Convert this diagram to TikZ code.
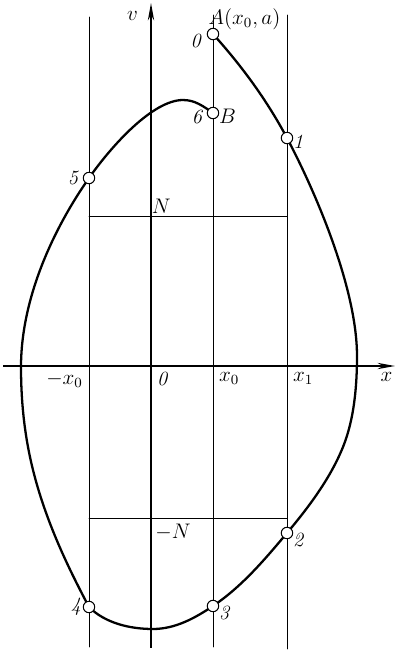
\documentclass[tikz,border=0pt]{standalone}
\usepackage{amsmath, amssymb}
\usepackage{tikz}
\usetikzlibrary{calc, arrows.meta}
\usepackage{tkz-euclide}

\tikzset{
  curve/.style={line width=1.3pt, line cap=round},
  guide/.style={line width=0.45pt},
  axis/.style={line width=0.8pt, -{Stealth[length=10pt, width=3.6pt]}},
  ringpt/.style={circle, draw, fill=white, line width=0.6pt, inner sep=0pt, minimum size=6.5pt},
  lbl/.style={font=\fontsize{11.5}{13}\selectfont}
}

\begin{document}
\begin{tikzpicture}[scale=0.2]
            \useasboundingbox (-15.1,-28.5) rectangle (24.5,36.6);
            \tkzDefPoints{0/0/O, 6.2/33.2/A, 6.2/25.3/B, 13.6/22.8/P1, 13.6/-16.7/P2, 6.2/-24.0/P3, -6.2/-24.1/P4, -6.2/18.8/P5}
            \tkzDefPoints{20.6/1.0/R, 19.2/-8.1/Rc, 0.2/-26.3/D, -11.8/-10.4/Lc, -13.0/-0.1/L, 3.2/26.6/T}
            \tkzDefPoints{-14.8/0/Xs, 24.4/0/Xe, 0/-28.2/Vs, 0/36.3/Ve}
            \tkzDefPoints{-6.2/34.9/Gt1, -6.2/-28.1/Gb1, 6.2/35.1/Gt2, 6.2/-28.1/Gb2, 13.6/35.1/Gt3, 13.6/-28.3/Gb3}
            \tkzDefPoints{-6.2/15/NL, 0/15/N, 13.6/15/NR, -6.2/-15.2/ML, 0/-15.2/M, 13.6/-15.2/MR, -6.2/0/Xm, 6.2/0/Xp, 13.6/0/Xq}
            \tkzDrawSegments[guide](Gt1,Gb1 Gt2,Gb2 Gt3,Gb3 NL,NR ML,MR)
            \draw[axis] (Xs) -- (Xe);
            \draw[axis] (Vs) -- (Ve);
            % the phase curve, from A round to B
            \draw[curve] (A) .. controls +(-48:4.3) and +(118:4.3) .. (P1)
                .. controls +(-62:5.5) and +(90:7) .. (R)
                .. controls +(-90:3) and +(68:3) .. (Rc)
                .. controls +(-112:3.4) and +(50:3.4) .. (P2)
                .. controls +(-130:3.5) and +(34:3.5) .. (P3)
                .. controls +(-146:2.2) and +(0:2.2) .. (D)
                .. controls +(180:2.3) and +(-45:2.3) .. (P4)
                .. controls +(118:5) and +(-76:5) .. (Lc)
                .. controls +(104:3.5) and +(-90:3.5) .. (L)
                .. controls +(90:7) and +(-125:6) .. (P5)
                .. controls +(55:4) and +(180:3) .. (T)
                .. controls +(0:1.2) and +(145:1.2) .. (B);
            \foreach \p in {A,B,P1,P2,P3,P4,P5}
              \node[ringpt] (m\p) at (\p) {};
            \tkzLabelPoint[lbl, above right, xshift=-6pt, yshift=-1pt](A){$A(x_0,a)$}
            \tkzLabelPoint[lbl, left, xshift=-3pt, yshift=-4pt](A){\textit{0}}
            \tkzLabelPoint[lbl, left, xshift=-2pt, yshift=-2pt](B){\textit{6}}
            \tkzLabelPoint[lbl, right, yshift=-2pt](B){$B$}
            \tkzLabelPoint[lbl, right, yshift=-2pt](P1){\textit{1}}
            \tkzLabelPoint[lbl, right, yshift=-4pt](P2){\textit{2}}
            \tkzLabelPoint[lbl, right, yshift=-4pt](P3){\textit{3}}
            \tkzLabelPoint[lbl, left, xshift=-1pt](P4){\textit{4}}
            \tkzLabelPoint[lbl, left, xshift=-2pt](P5){\textit{5}}
            \tkzLabelPoint[lbl, above right, xshift=-3pt, yshift=-2pt](N){$N$}
            \tkzLabelPoint[lbl, below right, xshift=-1pt](M){$-N$}
            \tkzLabelPoint[lbl, below left](Xm){$-x_0$}
            \tkzLabelPoint[lbl, below right](O){\textit{0}}
            \tkzLabelPoint[lbl, below right](Xp){$x_0$}
            \tkzLabelPoint[lbl, below right](Xq){$x_1$}
            \tkzLabelPoint[lbl, below left, xshift=2pt](Xe){$x$}
            \tkzLabelPoint[lbl, below left, xshift=-4pt, yshift=-1pt](Ve){$v$}
        \end{tikzpicture}
\end{document}
